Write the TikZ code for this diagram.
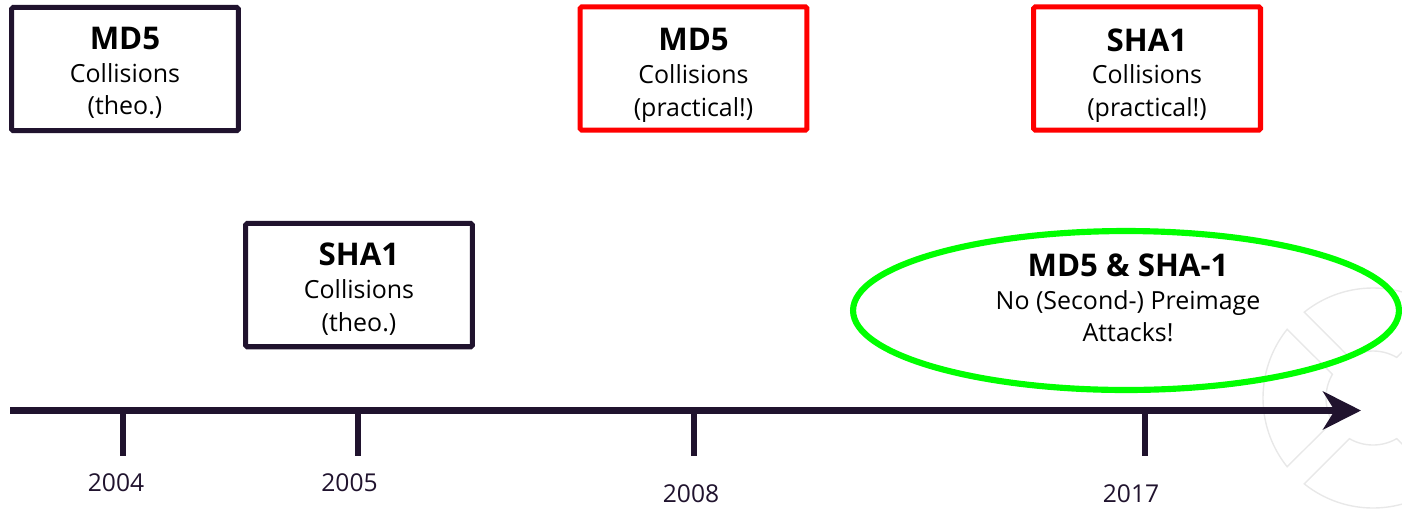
\documentclass[tikz,border=0pt]{standalone}
\usepackage{fontspec}
\setmainfont{Open Sans}
\usetikzlibrary{arrows.meta,shapes.geometric}

\definecolor{ink}{HTML}{20132E}
\definecolor{alert}{HTML}{FF0000}
\definecolor{okgreen}{HTML}{00FF00}
\definecolor{mark}{HTML}{E8E8E8}

\tikzset{
  eventbox/.style={draw=ink, line width=2.85pt, rounded corners=1pt,
    minimum width=4.54cm, minimum height=2.47cm, inner sep=0pt},
  alertbox/.style={eventbox, draw=alert},
  boxtext/.style={align=center, text=black, inner sep=0pt,
    font=\fontsize{14.2}{18.6}\selectfont},
  axisline/.style={draw=ink, line width=4.2pt,
    -{Stealth[length=21.6pt, width=21.6pt, inset=6.6pt]}},
  tickmark/.style={draw=ink, line width=3.8pt},
  year/.style={text=ink, inner sep=0pt, font=\fontsize{14}{16}\selectfont},
  wmline/.style={draw=mark, line width=0.8pt},
}

\newcommand{\hd}[1]{{\fontsize{17.8}{18.6}\selectfont\bfseries #1}}

\begin{document}
\begin{tikzpicture}[x=0.02cm, y=-0.02cm]
  \useasboundingbox (0,0) rectangle (1402,508);

  % faint ring emblem in the lower right corner
  \begin{scope}
    \clip (0,0) rectangle (1402,508);
    \foreach \a in {0,90,180,270} {
      \draw[wmline]
        plot[domain={\a+51.3}:{\a+128.7}, samples=40] ([shift={(1373,398)}]\x:110)
        -- plot[domain={\a+120.2}:{\a+59.8}, samples=30] ([shift={(1373,398)}]\x:47)
        -- cycle;
    }
  \end{scope}

  % events
  \node[eventbox] (md5theo) at (125,69) {};
  \node[boxtext] (md5theotext) at ([yshift=-4*0.02cm]md5theo.center)
    {\hd{MD5}\\Collisions\\(theo.)};
  \node[eventbox] (sha1theo) at (359,285) {};
  \node[boxtext] (sha1theotext) at ([yshift=-4*0.02cm]sha1theo.center)
    {\hd{SHA1}\\Collisions\\(theo.)};
  \node[alertbox] (md5prac) at (693.5,68.5) {};
  \node[boxtext] (md5practext) at ([yshift=-7*0.02cm]md5prac.center)
    {\hd{MD5}\\Collisions\\(practical!)};
  \node[alertbox] (sha1prac) at (1147,68.5) {};
  \node[boxtext] (sha1practext) at ([yshift=-7*0.02cm]sha1prac.center)
    {\hd{SHA1}\\Collisions\\(practical!)};

  % still safe against preimages
  \node[ellipse, draw=okgreen, line width=3.5pt, inner sep=0pt,
        minimum width=10.92cm, minimum height=3.18cm] (safe) at (1126,310.5) {};
  \node[boxtext] (safetext) at (1128,298)
        {\hd{MD5 \& SHA-1}\\No (Second-) Preimage\\Attacks!};

  % time axis
  \coordinate (axstart) at (10,410.5);
  \coordinate (axend) at (1361,410.5);
  \draw[axisline] (axstart) -- (axend);

  \coordinate (t2004) at (123,410.5);
  \coordinate (t2005) at (358,410.5);
  \coordinate (t2008) at (694,410.5);
  \coordinate (t2017) at (1145,410.5);
  \foreach \t in {t2004,t2005,t2008,t2017}
    \draw[tickmark] (\t) -- ++(0,45.5);

  \node[year] (y2004) at (116,483) {2004};
  \node[year] (y2005) at (349.5,483) {2005};
  \node[year] (y2008) at (691,494) {2008};
  \node[year] (y2017) at (1131,494) {2017};
\end{tikzpicture}
\end{document}
